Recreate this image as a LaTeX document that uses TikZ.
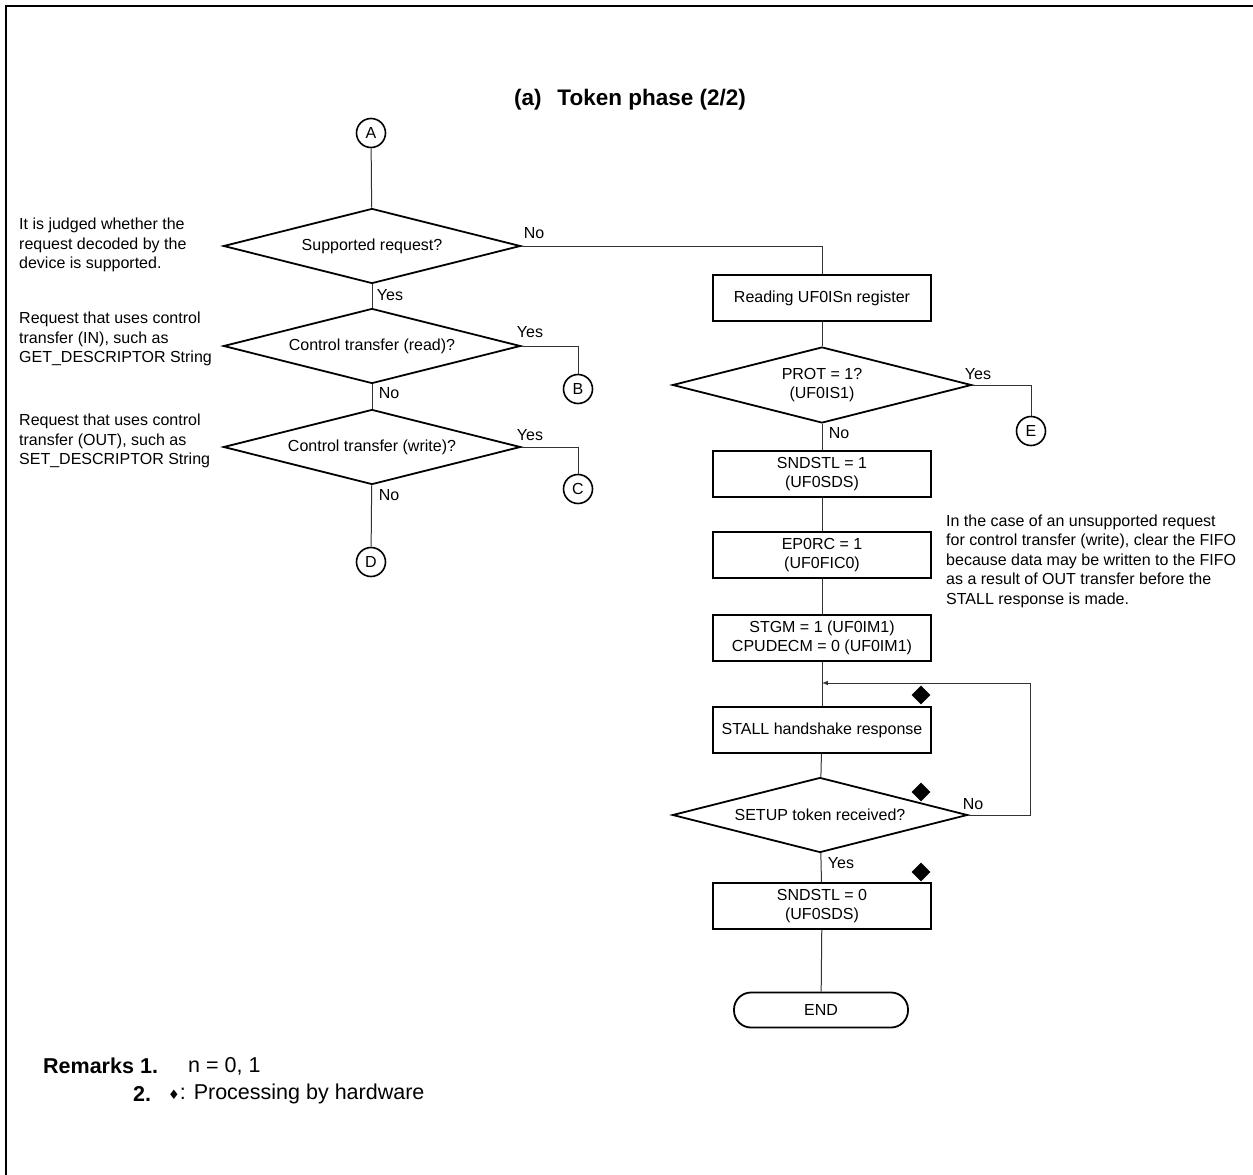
\documentclass[tikz,border=0pt]{standalone}
\usepackage{fontspec}
\setmainfont{Liberation Sans}
\newfontfamily\symfont{DejaVu Sans}
\usetikzlibrary{shapes.geometric,arrows}

\tikzset{
  proc/.style={draw, line width=1.8pt, minimum width=218pt, minimum height=46pt, align=center, inner sep=2pt},
  decision/.style={draw, diamond, line width=1.8pt, aspect=4, minimum width=297pt, minimum height=75pt, inner sep=0pt, align=center},
  conn/.style={draw, circle, line width=1.6pt, minimum size=29pt, inner sep=0pt},
  hw/.style={diamond, fill=black, minimum width=19pt, minimum height=19pt, inner sep=0pt},
  flow/.style={line width=1pt, black!80},
  lbl/.style={inner sep=0pt},
  remark/.style={align=left, anchor=west, inner sep=0pt},
  rkfont/.style={font=\fontsize{21.5}{24}\selectfont},
  rkbold/.style={font=\fontsize{21.5}{24}\selectfont\bfseries},
}

\begin{document}
\begin{tikzpicture}[x=1pt, y=-1pt, font=\fontsize{16}{19.5}\selectfont]
    \useasboundingbox (0,0) rectangle (1253,1175);
    %frame
    \draw[line width=2.6pt] (6,1175)--(6,6)--(1253,6);
    \node[lbl, font=\fontsize{22.5}{26}\selectfont\bfseries] (title) at (630,100) {(a)\hspace{0.7em}Token phase (2/2)};

    %left column
    \node[conn] (A) at (371,133) {A};
    \node[decision] (q1) at (372,246) {Supported request?};
    \node[decision] (q2) at (372,346) {Control transfer (read)?};
    \node[decision] (q3) at (372,447) {Control transfer (write)?};
    \node[conn] (B) at (578,389) {B};
    \node[conn] (C) at (578,489) {C};
    \node[conn] (D) at (371,562) {D};

    \node[remark] (n1) at (19,245) {It is judged whether the\\request decoded by the\\device is supported.};
    \node[remark] (n2) at (19,339) {Request that uses control\\transfer (IN), such as\\GET\_DESCRIPTOR String};
    \node[remark] (n3) at (19,441) {Request that uses control\\transfer (OUT), such as\\SET\_DESCRIPTOR String};

    %right column
    \node[proc] (rd) at (822,298) {Reading UF0ISn register};
    \node[decision, minimum width=299pt, minimum height=76pt] (q4) at (822,385) {PROT = 1?\\(UF0IS1)};
    \node[conn] (E) at (1031,431) {E};
    \node[proc] (s1) at (822,474) {SNDSTL = 1\\(UF0SDS)};
    \node[proc] (ep) at (822,555) {EP0RC = 1\\(UF0FIC0)};
    \node[proc] (im) at (822,638) {STGM = 1 (UF0IM1)\\CPUDECM = 0 (UF0IM1)};
    \node[proc] (st) at (822,730) {STALL handshake response};
    \node[decision, minimum width=295pt] (q5) at (820,815) {SETUP token received?};
    \node[proc] (s0) at (822,906) {SNDSTL = 0\\(UF0SDS)};
    \node[draw, line width=1.8pt, rounded corners=17pt, minimum width=174pt, minimum height=35pt] (end) at (821,1010) {END};

    \node[remark] (n4) at (946,561) {In the case of an unsupported request\\for control transfer (write), clear the FIFO\\because data may be written to the FIFO\\as a result of OUT transfer before the\\STALL response is made.};

    %hardware marks
    \node[hw] (hw1) at (921,695) {};
    \node[hw] (hw2) at (921,792) {};
    \node[hw] (hw3) at (921,872) {};

    %connectors
    \draw[flow] (A)--(q1);
    \draw[flow] (q1)--(q2);
    \draw[flow] (q2)--(q3);
    \draw[flow] (q3)--(D);
    \draw[flow] (q2.east) -| (B);
    \draw[flow] (q3.east) -| (C);
    \draw[flow] (q1.east) -| (rd);
    \draw[flow] (rd)--(q4);
    \draw[flow] (q4.east) -| (E);
    \draw[flow] (q4)--(s1);
    \draw[flow] (s1)--(ep);
    \draw[flow] (ep)--(im);
    \draw[flow] (im)--(st);
    \draw[flow] (st)--(q5);
    \draw[flow] (q5)--(s0);
    \draw[flow] (s0)--(end);
    \coordinate (back) at (1030,683);
    \draw[flow, -latex] (q5.east) -| (back) -- (back -| st.north);

    %branch labels
    \node[lbl] (l1) at (534,233) {No};
    \node[lbl] (l2) at (390,295) {Yes};
    \node[lbl] (l3) at (530,332) {Yes};
    \node[lbl] (l4) at (389,393) {No};
    \node[lbl] (l5) at (530,435) {Yes};
    \node[lbl] (l6) at (389,495) {No};
    \node[lbl] (l7) at (978,374) {Yes};
    \node[lbl] (l8) at (839,433) {No};
    \node[lbl] (l9) at (973,804) {No};
    \node[lbl] (l10) at (841,863) {Yes};

    %remarks
    \node[remark, rkbold] (rk) at (43,1066) {Remarks};
    \node[remark, rkbold] (rk1) at (140,1066) {1.};
    \node[remark, rkfont] (rk1t) at (188,1066) {n = 0, 1};
    \node[remark, rkbold] (rk2) at (133,1094) {2.};
    \node[remark, rkfont] (rk2t) at (168,1094) {{\symfont\fontsize{13}{13}\selectfont ♦}: Processing by hardware};
\end{tikzpicture}
\end{document}
